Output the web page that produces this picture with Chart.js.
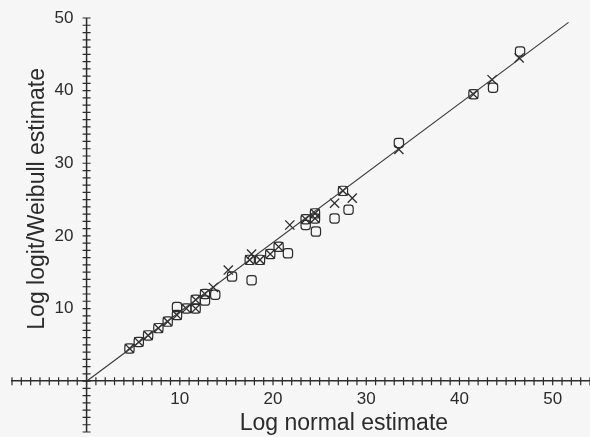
<!DOCTYPE html>
<html lang="en">
<head>
    <meta charset="UTF-8">
    <title>Log logit/Weibull vs Log normal estimate</title>
    <script src="https://cdn.jsdelivr.net/npm/chart.js"></script>
    <style>
        body {
            margin: 0;
            background: #f6f6f6;
        }
        canvas {
            display: block;
        }
    </style>
</head>
<body>
    <canvas id="estimateChart" width="590" height="437"></canvas>

    <script>
        // Values (x = log normal estimate, y = other estimate)
        const logitX = [4.6, 5.6, 6.6, 7.7, 8.7, 9.7, 10.7, 11.7, 11.7, 12.7, 13.6, 15.2,
                        17.5, 17.7, 18.6, 19.7, 20.6, 21.8, 23.5, 24.5, 24.5, 26.6, 27.5,
                        28.5, 33.5, 41.5, 43.5, 46.4];
        const logitY = [4.5, 5.4, 6.3, 7.3, 8.2, 9.1, 10.0, 10.0, 11.2, 12.0, 12.9, 15.3,
                        16.7, 17.5, 16.7, 17.5, 18.5, 21.5, 22.3, 22.4, 23.1, 24.5, 26.2,
                        25.2, 31.9, 39.5, 41.5, 44.5];

        const weibullX = [4.6, 5.6, 6.6, 7.7, 8.7, 9.7, 9.7, 10.7, 11.7, 11.7, 12.7, 12.7,
                          13.8, 15.6, 17.5, 17.7, 18.6, 19.7, 20.6, 21.6, 23.5, 23.5, 24.5,
                          24.5, 24.6, 26.6, 27.5, 28.1, 33.5, 41.5, 43.6, 46.5];
        const weibullY = [4.5, 5.4, 6.3, 7.3, 8.2, 9.1, 10.2, 10.0, 10.0, 11.2, 12.0, 11.1,
                          11.9, 14.4, 16.7, 13.9, 16.7, 17.5, 18.5, 17.6, 22.3, 21.5, 22.4,
                          23.1, 20.6, 22.4, 26.2, 23.6, 32.8, 39.5, 40.4, 45.4];

        // the straight reference line drawn through the cloud
        const lineX = [0, 51.7];
        const lineY = [0, 49.4];

        const xTickLabels = [10, 20, 30, 40, 50];
        const yTickLabels = [10, 20, 30, 40, 50];
        const xTitle = 'Log normal estimate';
        const yTitle = 'Log logit/Weibull estimate';

        const ink = '#2b2b2b';
        const fontFamily = '"Liberation Sans", Arial, sans-serif';

        function toPoints(xs, ys) {
            return xs.map((x, i) => ({ x: x, y: ys[i] }));
        }

        // vertical axis line at x = 0 plus the small tick marks crossing both axes
        const crossAxes = {
            id: 'crossAxes',
            afterDraw(chart) {
                const { ctx, scales: { x, y } } = chart;
                const x0 = x.getPixelForValue(0);
                const y0 = y.getPixelForValue(0);
                ctx.save();
                ctx.strokeStyle = ink;
                ctx.lineWidth = 1.5;
                ctx.beginPath();
                ctx.moveTo(x0, y.top);
                ctx.lineTo(x0, y.bottom);
                ctx.stroke();

                ctx.lineWidth = 1.2;
                ctx.beginPath();
                for (let v = x.min; v <= x.max; v++) {
                    const px = x.getPixelForValue(v);
                    ctx.moveTo(px, y0 - 4);
                    ctx.lineTo(px, y0 + 4);
                }
                for (let v = y.min; v <= y.max; v++) {
                    const py = y.getPixelForValue(v);
                    ctx.moveTo(x0 - 4, py);
                    ctx.lineTo(x0 + 4, py);
                }
                ctx.stroke();
                ctx.restore();
            }
        };

        // axis titles, placed where the figure has them
        const axisTitles = {
            id: 'axisTitles',
            afterDraw(chart) {
                const { ctx, scales: { x, y } } = chart;
                ctx.save();
                ctx.fillStyle = ink;
                ctx.font = '23px ' + fontFamily;
                ctx.textAlign = 'center';
                ctx.textBaseline = 'middle';
                ctx.fillText(xTitle, x.getPixelForValue(27.6), y.getPixelForValue(-5.8));
                ctx.translate(x.getPixelForValue(-5.2), y.getPixelForValue(25.1));
                ctx.rotate(-Math.PI / 2);
                ctx.fillText(yTitle, 0, 0);
                ctx.restore();
            }
        };

        const hiddenGrid = {
            display: true,
            drawOnChartArea: false,
            drawTicks: true,
            tickLength: 4,
            color: 'rgba(0,0,0,0)',
            tickColor: 'rgba(0,0,0,0)'
        };

        // the axes cross inside the plot, so their label overhang should not shrink it
        function noOverhang(scale) {
            scale.paddingTop = 0;
            scale.paddingBottom = 0;
            scale.paddingLeft = 0;
            scale.paddingRight = 0;
        }

        new Chart(document.getElementById('estimateChart'), {
            type: 'scatter',
            data: {
                datasets: [
                    {
                        label: 'Line',
                        type: 'line',
                        data: toPoints(lineX, lineY),
                        borderColor: '#3a3a3a',
                        borderWidth: 1.2,
                        pointRadius: 0,
                        fill: false
                    },
                    {
                        label: 'Weibull',
                        data: toPoints(weibullX, weibullY),
                        pointStyle: 'rectRounded',
                        pointRadius: 5.4,
                        borderColor: ink,
                        backgroundColor: 'rgba(0,0,0,0)',
                        borderWidth: 1.2
                    },
                    {
                        label: 'Log logit',
                        data: toPoints(logitX, logitY),
                        pointStyle: 'crossRot',
                        pointRadius: 6.5,
                        borderColor: ink,
                        borderWidth: 1.3
                    }
                ]
            },
            options: {
                responsive: false,
                animation: false,
                layout: {
                    autoPadding: false,
                    padding: { left: 12, right: 0, top: 18, bottom: 5 }
                },
                plugins: {
                    legend: { display: false },
                    tooltip: { enabled: false }
                },
                scales: {
                    x: {
                        type: 'linear',
                        min: -8,
                        max: 54,
                        position: { y: 0 },
                        border: { display: true, color: ink, width: 1.5 },
                        grid: hiddenGrid,
                        afterFit: noOverhang,
                        ticks: {
                            stepSize: 1,
                            autoSkip: false,
                            maxRotation: 0,
                            padding: 4,
                            color: ink,
                            font: { family: fontFamily, size: 17 },
                            callback: v => xTickLabels.includes(v) ? String(v) : null
                        }
                    },
                    y: {
                        type: 'linear',
                        min: -7,
                        max: 50,
                        // labels sit a little left of the axis line, which the plugin draws at x = 0
                        position: { x: -1.4 },
                        border: { display: false },
                        grid: hiddenGrid,
                        afterFit: noOverhang,
                        ticks: {
                            stepSize: 1,
                            autoSkip: false,
                            color: ink,
                            font: { family: fontFamily, size: 17 },
                            callback: v => yTickLabels.includes(v) ? String(v) : null
                        }
                    }
                }
            },
            plugins: [crossAxes, axisTitles]
        });
    </script>
</body>
</html>
